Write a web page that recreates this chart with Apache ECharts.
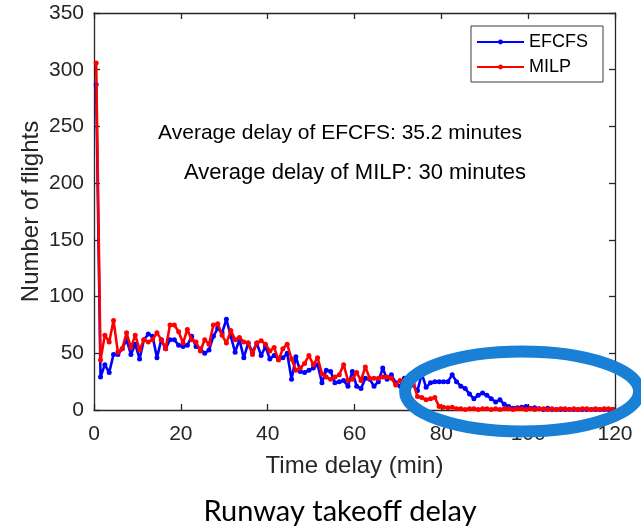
<!DOCTYPE html>
<html><head><meta charset="utf-8">
<script src="https://cdn.jsdelivr.net/npm/echarts@6/dist/echarts.min.js"></script>
<style>html,body{margin:0;padding:0;background:#fff}#c{width:641px;height:530px}</style>
</head><body><div id="c"></div>
<script>
// time delay (min), bin centres
const minutes = [0.5,1.5,2.5,3.5,4.5,5.5,6.5,7.5,8.5,9.5,10.5,11.5,12.5,13.5,14.5,15.5,16.5,17.5,18.5,19.5,
20.5,21.5,22.5,23.5,24.5,25.5,26.5,27.5,28.5,29.5,30.5,31.5,32.5,33.5,34.5,35.5,36.5,37.5,38.5,39.5,
40.5,41.5,42.5,43.5,44.5,45.5,46.5,47.5,48.5,49.5,50.5,51.5,52.5,53.5,54.5,55.5,56.5,57.5,58.5,59.5,
60.5,61.5,62.5,63.5,64.5,65.5,66.5,67.5,68.5,69.5,70.5,71.5,72.5,73.5,74.5,75.5,76.5,77.5,78.5,79.5,
80.5,81.5,82.5,83.5,84.5,85.5,86.5,87.5,88.5,89.5,90.5,91.5,92.5,93.5,94.5,95.5,96.5,97.5,98.5,99.5,
100.5,101.5,102.5,103.5,104.5,105.5,106.5,107.5,108.5,109.5,110.5,111.5,112.5,113.5,114.5,115.5,116.5,117.5,118.5,119.5];

const efcfs = [287,29,40,33,49,49,54,62,49,58,45,62,67,65,46,62,54,62,62,57,
56,57,65,56,54,50,53,65,72,68,80,65,51,62,46,59,51,59,48,56,
45,48,45,46,50,27,47,34,33,35,37,40,24,35,34,24,25,26,21,34,
21,19,28,27,21,25,37,27,31,24,21,28,29,22,17,32,20,24,25,25,
25,25,31,25,21,19,14,10,13,15,13,10,7,9,5,3,1.5,2,2.5,3,
1.5,2,1,0.5,1.5,0.5,0.5,0.5,0.5,0.5,0.5,0.5,0.5,0.5,0.5,0.5,0.5,0.5,0.5,0.5];

const milp = [306,44,66,60,79,51,54,68,55,66,53,62,60,62,68,62,54,75,75,69,
59,71,62,60,52,62,58,75,76,66,59,70,62,64,60,59,49,59,61,58,
52,55,44,54,58,45,35,37,41,48,40,46,32,29,27,29,31,40,26,27,
33,26,38,28,28,28,29,29,28,22,26,26,26,24,12,11,9,10,11,3,
2.5,2,2.5,1,1,0.5,1,1,0.5,1,1,0.5,1,0.5,1,1,0.5,1,1,0.5,
1,0.5,1,1,0.5,1,0.5,1,1,0.5,1,0.5,1,1,0.5,1,0.5,1,1,0.5];

const xTicks = [0, 20, 40, 60, 80, 100, 120];
const yTicks = [0, 50, 100, 150, 200, 250, 300, 350];
const seriesNames = ['EFCFS', 'MILP'];
const notes = ['Average delay of EFCFS: 35.2 minutes', 'Average delay of MILP: 30 minutes'];
const figTitle = 'Runway takeoff delay';

const axisColor = '#262626';
const font = '"Liberation Sans", Arial, sans-serif';

const chart = echarts.init(document.getElementById('c'), null, {renderer: 'canvas'});

function pairs(vals) { return minutes.map((m, i) => [m, vals[i]]); }

const baseX = {
  type: 'value', min: xTicks[0], max: xTicks[xTicks.length - 1], interval: 20,
  axisLine: {show: true, onZero: false, lineStyle: {color: axisColor, width: 1.3}},
  axisTick: {show: true, inside: true, length: 6, lineStyle: {color: axisColor, width: 1.3}},
  splitLine: {show: false}
};
const baseY = {
  type: 'value', min: yTicks[0], max: yTicks[yTicks.length - 1], interval: 50,
  axisLine: {show: true, onZero: false, lineStyle: {color: axisColor, width: 1.3}},
  axisTick: {show: true, inside: true, length: 6, lineStyle: {color: axisColor, width: 1.3}},
  splitLine: {show: false}
};

chart.setOption({
  animation: false,
  backgroundColor: '#ffffff',
  grid: {left: 94, right: 26, top: 13, bottom: 120, containLabel: false},
  xAxis: [
    Object.assign({}, baseX, {
      position: 'bottom',
      name: 'Time delay (min)', nameLocation: 'middle', nameGap: 44, nameMoveOverlap: false,
      nameTextStyle: {color: axisColor, fontSize: 24, fontFamily: font},
      axisLabel: {color: axisColor, fontSize: 21, fontFamily: font, margin: 14}
    }),
    Object.assign({}, baseX, {position: 'top', axisLabel: {show: false}})
  ],
  yAxis: [
    Object.assign({}, baseY, {
      position: 'left',
      name: 'Number of flights', nameLocation: 'middle', nameGap: 51, nameRotate: 90, nameMoveOverlap: false,
      nameTextStyle: {color: axisColor, fontSize: 24, fontFamily: font},
      axisLabel: {color: axisColor, fontSize: 21, fontFamily: font, margin: 10}
    }),
    Object.assign({}, baseY, {position: 'right', axisLabel: {show: false}})
  ],
  legend: {
    right: 38, top: 26, orient: 'vertical',
    backgroundColor: '#ffffff', borderColor: '#3c3c3c', borderWidth: 1,
    padding: [7, 15, 6, 5], itemGap: 7, itemWidth: 47, itemHeight: 6,
    textStyle: {color: '#000', fontSize: 18, fontFamily: font},
    data: seriesNames
  },
  series: [
    {name: seriesNames[0], type: 'line', data: pairs(efcfs), color: '#0000ff',
     symbol: 'circle', symbolSize: 5, showSymbol: true,
     lineStyle: {width: 2.6, color: '#0000ff'}, itemStyle: {color: '#0000ff'}, z: 3},
    {name: seriesNames[1], type: 'line', data: pairs(milp), color: '#ff0000',
     symbol: 'circle', symbolSize: 5, showSymbol: true,
     lineStyle: {width: 2.6, color: '#ff0000'}, itemStyle: {color: '#ff0000'}, z: 4}
  ]
});

const c1 = chart.convertToPixel({gridIndex: 0}, [98.6, 16.3]);
chart.setOption({
  graphic: [
    {type: 'text', style: {text: notes[0], x: 0, y: 0, fill: '#000', font: '21px ' + font, textAlign: 'center', textVerticalAlign: 'middle'}, x: 340, y: 133, z: 10},
    {type: 'text', style: {text: notes[1], x: 0, y: 0, fill: '#000', font: '22px ' + font, textAlign: 'center', textVerticalAlign: 'middle'}, x: 355, y: 173, z: 10},
    {type: 'text', style: {text: figTitle, x: 0, y: 0, fill: '#000', font: '29px Lato, "Open Sans", sans-serif', textAlign: 'center', textVerticalAlign: 'middle'}, x: 340, y: 512, z: 10},
    {type: 'ellipse', shape: {cx: c1[0], cy: c1[1], rx: 117, ry: 40}, style: {fill: 'none', stroke: '#1a80d6', lineWidth: 12}, z: 20}
  ]
});
</script></body></html>
